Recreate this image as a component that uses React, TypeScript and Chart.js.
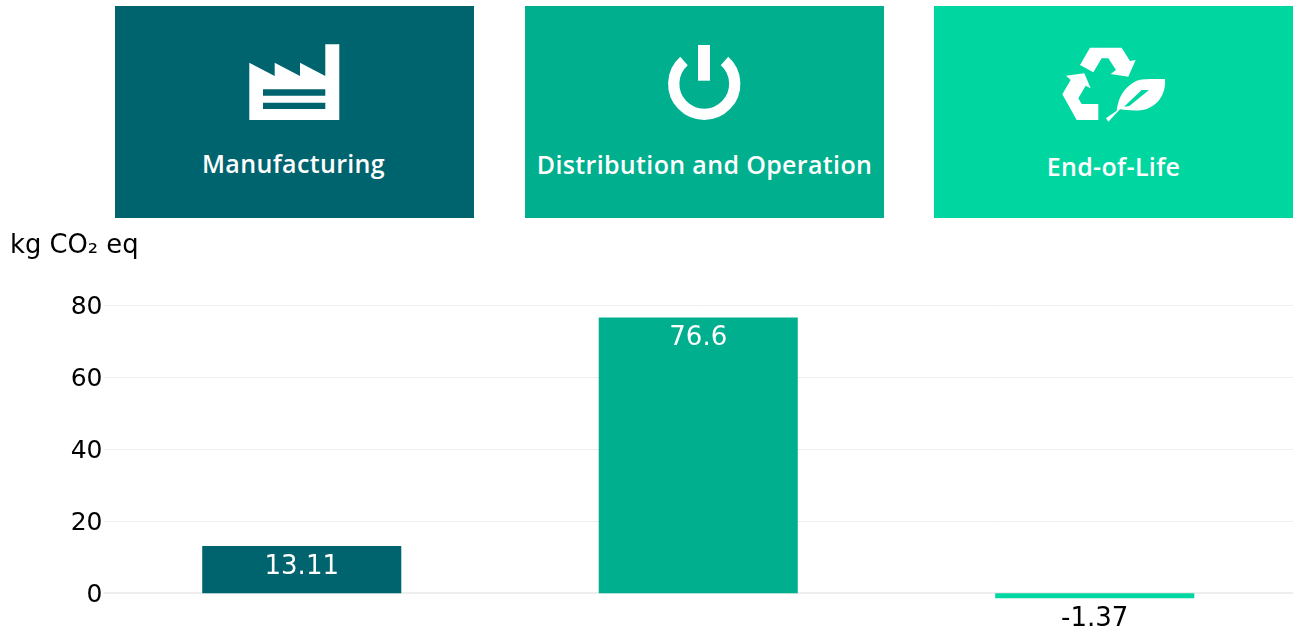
import React, { useEffect, useRef } from "react";
import { Chart, registerables } from "chart.js";

Chart.register(...registerables);

const categories = ["Manufacturing", "Distribution and Operation", "End-of-Life"];
const values = [13.11, 76.6, -1.37];
const barColors = ["#00646e", "#00af8e", "#00d7a0"];
const axisTicks = [0, 20, 40, 60, 80];
const unitLabel = "kg CO₂ eq";
const FONT = "'DejaVu Sans', sans-serif";
const GRID = "#eeeeee";

const zeroLine = {
  id: "zeroLine",
  beforeDatasetsDraw(chart: any) {
    const { ctx, chartArea, scales } = chart;
    ctx.save();
    ctx.fillStyle = GRID;
    ctx.fillRect(chartArea.left, Math.round(scales.y.getPixelForValue(0)) - 1, chartArea.right - chartArea.left, 2);
    ctx.restore();
  },
};

const valueLabels = {
  id: "valueLabels",
  afterDatasetsDraw(chart: any) {
    const { ctx } = chart;
    const meta = chart.getDatasetMeta(0);
    ctx.save();
    ctx.font = `26px ${FONT}`;
    ctx.textAlign = "center";
    ctx.textBaseline = "middle";
    meta.data.forEach((bar: any, i: number) => {
      const v = values[i];
      ctx.fillStyle = v >= 0 ? "#ffffff" : "#000000";
      ctx.fillText(String(v), bar.x, bar.y + 21);
    });
    ctx.restore();
  },
};

function Factory() {
  return (
    <path
      fill="#fff"
      fillRule="evenodd"
      d="M249.3 120V62.7L274.7 76V62.7L300 76V62.7L325.3 76V44.3H339.3V120ZM263 89.3V95.7H325.3V89.3ZM263 102.7V109H325.3V102.7Z"
    />
  );
}

function Power() {
  return (
    <g>
      <rect x="698" y="45" width="12" height="35.7" fill="#fff" />
      <path d="M684 61A30.5 30.5 0 1 0 724.5 61" fill="none" stroke="#fff" strokeWidth="11.3" />
    </g>
  );
}

function Recycle() {
  return (
    <g transform="translate(1040 35) scale(0.3333)" fill="#fff">
      <path d="M150 38H245L270 78L287 75L265 125L212 117L228 105L205 70H185L160 112L120 90Z" />
      <path d="M78 122L133 115L152 160L137 152L115 190L125 207H175V255H110L67 178L92 135Z" />
      <path
        fillRule="evenodd"
        d="M375 132C378 165 365 205 320 222C295 230 265 226 240 223L205 260L198 250L230 227C235 195 245 160 290 137C310 130 350 132 375 132ZM305 165L252 215L268 213L327 165Z"
      />
    </g>
  );
}

const cards = [
  { left: 115, labelTop: 163, dx: -1 },
  { left: 525, labelTop: 164, dx: 0 },
  { left: 934, labelTop: 166, dx: 0 },
];

export default function App() {
  const ref = useRef<HTMLCanvasElement>(null);

  useEffect(() => {
    const chart = new Chart(ref.current!, {
      type: "bar",
      data: {
        labels: categories,
        datasets: [
          {
            data: values,
            backgroundColor: barColors,
            barPercentage: 0.502,
            categoryPercentage: 1,
          },
        ],
      },
      plugins: [zeroLine, valueLabels],
      options: {
        animation: false,
        responsive: false,
        layout: { padding: { left: 10, right: 0, top: 0, bottom: 3 } },
        plugins: {
          legend: { display: false },
          tooltip: { enabled: false },
          title: {
            display: true,
            text: unitLabel,
            align: "start",
            color: "#000000",
            font: { family: FONT, size: 25.8, weight: "normal" },
            padding: { top: 1, bottom: 43.34 },
          },
        },
        scales: {
          x: {
            display: false,
          },
          y: {
            min: -5.472,
            max: 80,
            afterBuildTicks(axis: any) {
              axis.ticks = axisTicks.map((value) => ({ value }));
            },
            afterFit(axis: any) {
              axis.width = 93.5;
            },
            border: { display: false },
            grid: {
              color: GRID,
              lineWidth: (c: any) => (c.tick && c.tick.value === 0 ? 0 : 1),
              drawTicks: false,
            },
            ticks: {
              color: "#000000",
              padding: 1,
              labelOffset: 2,
              font: { family: FONT, size: 25 },
            },
          },
        },
      },
    } as any);
    return () => chart.destroy();
  }, []);

  return (
    <div style={{ position: "absolute", left: 0, top: 0, width: 1293, height: 629, overflow: "hidden", background: "#fff" }}>
      {cards.map((c, i) => (
        <div key={categories[i]} style={{ position: "absolute", left: c.left, top: 6, width: 359, height: 212, background: barColors[i] }}>
          <div
            style={{
              position: "absolute",
              left: c.dx,
              right: -c.dx,
              top: c.labelTop - 6 - 20,
              height: 40,
              lineHeight: "40px",
              textAlign: "center",
              color: "#fff",
              fontFamily: "'Open Sans', sans-serif",
              fontWeight: 600,
              fontSize: 25,
              letterSpacing: 0.35,
              whiteSpace: "nowrap",
            }}
          >
            {categories[i]}
          </div>
        </div>
      ))}
      <svg width={1293} height={230} style={{ position: "absolute", left: 0, top: 0 }}>
        <Factory />
        <Power />
        <Recycle />
      </svg>
      <canvas ref={ref} width={1293} height={399} style={{ position: "absolute", left: 0, top: 230, display: "block" }} />
    </div>
  );
}
